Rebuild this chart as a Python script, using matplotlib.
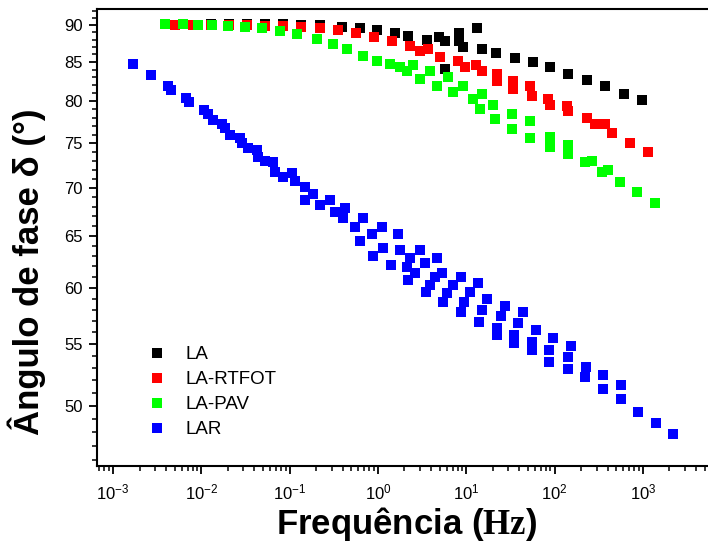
import matplotlib
matplotlib.use("Agg")
import matplotlib.pyplot as plt
from matplotlib.ticker import FixedLocator, NullFormatter, FixedFormatter, LogLocator, LogFormatterSciNotation

plt.rcParams['font.family'] = ['Liberation Sans', 'DejaVu Sans']
plt.rcParams['mathtext.fontset'] = 'custom'
plt.rcParams['mathtext.rm'] = 'Liberation Sans'
plt.rcParams['mathtext.bf'] = 'Liberation Serif:bold'
plt.rcParams['axes.unicode_minus'] = False

# ---- data ----
la_freq = [0.0129, 0.0206, 0.0330, 0.0527, 0.0842, 0.135, 0.221, 0.392, 0.627, 0.977,
           1.56, 2.19, 3.60, 4.9, 5.75, 5.75, 8.28, 8.28, 9.2, 13.3, 15.1, 22.0,
           35.7, 57.1, 88.9, 142, 233, 373, 612, 979]
la_angle = [90.1, 90.1, 90.1, 90.1, 90.1, 90.05, 90.0, 89.7, 89.6, 89.3,
            88.9, 88.5, 88.0, 88.3, 87.8, 84.1, 88.9, 87.8, 87.0, 89.6, 86.7, 86.2,
            85.5, 85.0, 84.4, 83.5, 82.7, 81.9, 80.9, 80.1]

rt_freq = [5.03e-3, 8.05e-3, 0.0129, 0.0206, 0.0330, 0.0527, 0.0842, 0.135, 0.221,
           0.353, 0.565, 0.904, 1.45, 2.31, 3.0, 3.69, 5.05, 8.07, 9.69, 12.9, 15.1,
           22.3, 22.3, 33.9, 33.9, 52.7, 55.6, 84.4, 88.9, 139, 142, 233, 287, 373,
           448, 716, 1146]
rt_angle = [90.0, 90.0, 90.0, 90.0, 90.0, 89.9, 89.8, 89.7, 89.6,
            89.3, 88.9, 88.4, 87.8, 87.1, 86.5, 86.7, 85.7, 85.1, 84.4, 84.6, 83.8,
            83.5, 82.6, 82.6, 81.5, 81.9, 80.6, 80.3, 79.6, 79.4, 78.8, 78.0, 77.2, 77.2,
            76.2, 75.0, 74.0]

pav_freq = [3.88e-3, 6.21e-3, 9.2e-3, 0.0132, 0.0200, 0.0313, 0.0487, 0.0778, 0.121,
            0.204, 0.310, 0.447, 0.678, 0.977, 1.37, 1.78, 2.14, 2.50, 3.00, 3.89,
            4.67, 6.22, 7.09, 9.2, 11.9, 14.3, 15.1, 20.1, 21.2, 33.0, 33.0, 52.7, 52.7,
            88.9, 88.9, 142, 142, 221, 266, 345, 404, 552, 859, 1374]
pav_angle = [90.1, 90.1, 90.0, 90.0, 89.9, 89.7, 89.6, 89.2, 88.8,
             88.1, 87.4, 86.7, 85.8, 85.1, 84.7, 84.4, 83.8, 84.6, 82.8, 83.8,
             81.9, 83.1, 81.2, 81.9, 80.3, 79.0, 80.9, 79.6, 77.8, 78.4, 76.6, 77.6, 75.6,
             75.7, 74.6, 74.8, 73.7, 72.8, 72.9, 71.7, 72.0, 70.6, 69.5, 68.4]

lar_freq = [1.68e-3, 2.69e-3, 4.20e-3, 4.54e-3, 6.71e-3, 7.26e-3, 0.0107, 0.0119, 0.0136,
            0.0172, 0.0185, 0.0211, 0.0274, 0.0289, 0.0338, 0.0428, 0.0439, 0.0526,
            0.0648, 0.0684, 0.0842, 0.106, 0.115, 0.149, 0.149,
            0.184, 0.221, 0.287, 0.327, 0.403, 0.424, 0.550, 0.627, 0.678, 0.857, 0.880,
            1.11, 1.14, 1.41, 1.69, 1.78, 2.14, 2.19, 2.31, 2.63, 3.00, 3.41, 3.51, 3.89,
            4.43, 4.67, 5.32, 5.46, 6.06, 7.09, 8.73, 8.73, 9.44, 11.0, 13.6, 14.0, 15.1,
            17.2, 22.3, 22.3, 24.8, 27.5, 34.8, 34.8, 38.6, 44.0, 55.6, 55.6, 61.7,
            86.6, 86.6, 96.2, 142, 142, 154, 221, 227, 354, 354, 566, 566, 883, 1410, 2198]
lar_angle = [84.7, 83.3, 81.9, 81.4, 80.4, 79.9, 78.9, 78.4, 77.7,
             77.3, 76.8, 76.0, 75.6, 75.0, 74.4, 74.2, 73.4, 72.9,
             72.8, 71.7, 71.2, 71.6, 70.7, 70.1, 68.7,
             69.3, 68.2, 68.7, 67.4, 66.8, 67.9, 65.9, 64.5, 66.8, 65.2, 63.0,
             65.9, 63.8, 62.1, 65.2, 63.6, 61.9, 60.7, 62.8, 61.4, 63.6, 62.3, 59.6, 60.2,
             61.0, 62.8, 61.4, 58.7, 59.5, 60.2, 61.0, 57.8, 58.7, 59.6, 60.4, 56.9, 58.0,
             59.0, 55.8, 56.4, 57.4, 58.3, 55.1, 55.8, 56.8, 57.8, 54.5, 55.2, 56.2,
             53.5, 54.5, 55.5, 52.9, 53.9, 54.8, 52.3, 53.1, 51.3, 52.4, 50.5, 51.6, 49.5, 48.7, 47.9]

labels = ['LA', 'LA-RTFOT', 'LA-PAV', 'LAR']
colors = ['#000000', '#FF0000', '#00FF00', '#0000FF']

y_major = [50, 55, 60, 65, 70, 75, 80, 85, 90]

# ---- figure ----
fig = plt.figure(figsize=(7.08, 5.46), dpi=100)
ax = fig.add_axes([97/708, 1 - 466/546, (720 - 97)/708, (466 - 9)/546])

series = [(la_freq, la_angle), (rt_freq, rt_angle), (pav_freq, pav_angle), (lar_freq, lar_angle)]
for (f, a), lab, c in zip(series, labels, colors):
    ax.plot(f, a, linestyle='none', marker='s', ms=7.6, mew=0, color=c, label=lab)

ax.set_xscale('log')
ax.set_yscale('log')
ax.set_xlim(10**-3.181, 10**3.874)
ax.set_ylim(45.56, 92.25)

ax.yaxis.set_major_locator(FixedLocator(y_major))
ax.yaxis.set_major_formatter(FixedFormatter([str(v) for v in y_major]))
ax.yaxis.set_minor_locator(FixedLocator([v for v in range(46, 93) if v not in y_major]))
ax.yaxis.set_minor_formatter(NullFormatter())

ax.xaxis.set_major_locator(FixedLocator([1e-3, 1e-2, 1e-1, 1e0, 1e1, 1e2, 1e3]))
ax.xaxis.set_major_formatter(LogFormatterSciNotation())
ax.xaxis.set_minor_locator(LogLocator(base=10, subs=range(2, 10), numticks=20))
ax.xaxis.set_minor_formatter(NullFormatter())

for s in ax.spines.values():
    s.set_linewidth(1.5)

ax.tick_params(axis='both', which='major', direction='out', length=6, width=1.3,
               labelsize=12, colors='black')
ax.tick_params(axis='both', which='minor', direction='out', length=3.5, width=1.1)
ax.tick_params(axis='y', which='major', pad=4)
ax.tick_params(axis='x', which='major', pad=6)
ax.tick_params(top=False, right=False, which='both')

ax.set_xlabel('Frequência ($\\mathbf{Hz}$)', fontsize=25, fontweight='bold')
ax.xaxis.set_label_coords((406 - 97) / 623, (466 - 505) / 457)
ax.set_ylabel('Ângulo de fase δ (°)', fontsize=25, fontweight='bold')
ax.yaxis.set_label_coords((46 - 97) / 623, (466 - 272) / 457)

leg = ax.legend(loc='upper left', bbox_to_anchor=(0.082, 0.262), frameon=False,
                fontsize=13.5, handlelength=1.0, handletextpad=1.0, labelspacing=0.42,
                borderpad=0, borderaxespad=0, markerscale=1.0)

fig.savefig('out.png', dpi=100)
